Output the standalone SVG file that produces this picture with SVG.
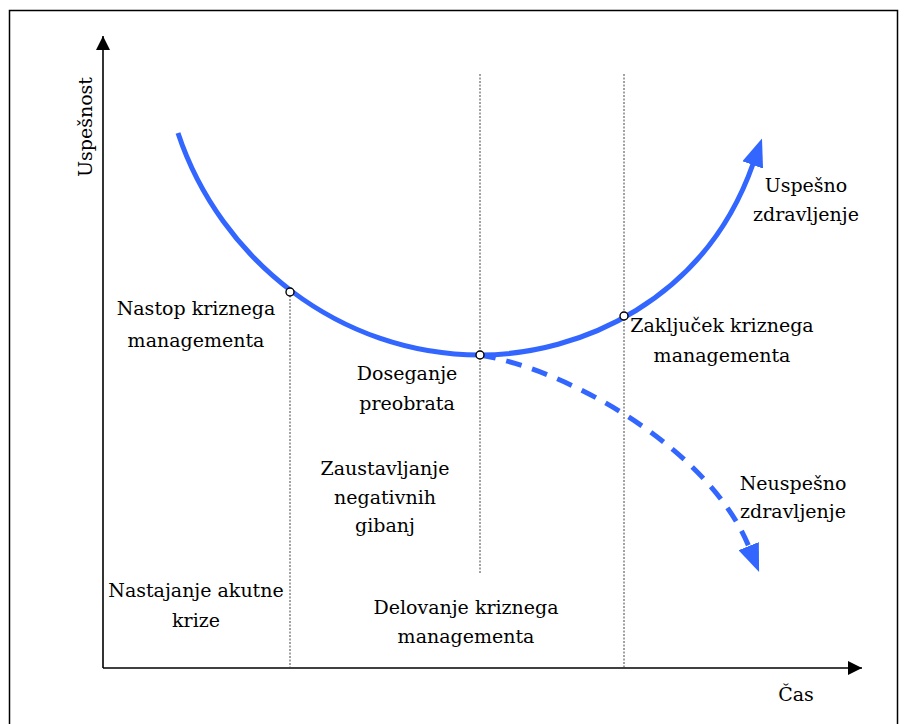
<svg xmlns="http://www.w3.org/2000/svg" width="906" height="724" viewBox="0 0 906 724">
  <style>
    .t { font-family: "DejaVu Serif", "Liberation Serif", serif; font-size: 19px; fill: #000; text-anchor: middle; }
    .axis { stroke: #000; stroke-width: 1.6; fill: none; }
    .guide { stroke: #444; stroke-width: 1; stroke-dasharray: 2 1.5; fill: none; }
    .curve { stroke: #3366ff; stroke-width: 5; fill: none; }
    .pt { fill: #fff; stroke: #000; stroke-width: 1.4; }
  </style>
  <defs>
    <marker id="ah" viewBox="0 0 10 10" refX="10" refY="5" markerWidth="14" markerHeight="14" markerUnits="userSpaceOnUse" orient="auto">
      <path d="M0,0 L10,5 L0,10 z" fill="#000"/>
    </marker>
    <marker id="bh" viewBox="0 0 28 22" refX="1" refY="11" markerWidth="28" markerHeight="22" markerUnits="userSpaceOnUse" orient="auto">
      <path d="M0,0 L28,11 L0,22 z" fill="#3366ff"/>
    </marker>
  </defs>
  <rect x="9.5" y="10.5" width="888" height="725" fill="#fff" stroke="#000" stroke-width="1.5"/>

  <g id="axes">
    <line class="axis" x1="103" y1="668" x2="103" y2="36" marker-end="url(#ah)"/>
    <line class="axis" x1="103" y1="668" x2="862" y2="668" marker-end="url(#ah)"/>
  </g>

  <g id="guides">
    <line class="guide" x1="290" y1="292" x2="290" y2="668"/>
    <line class="guide" x1="480" y1="74" x2="480" y2="574"/>
    <line class="guide" x1="624" y1="74" x2="624" y2="668"/>
  </g>

  <g id="connectors">
    <path id="success-curve" class="curve" d="M178,133 C220,260 340,355 480,355 C580,355 705,300 753,164" marker-end="url(#bh)"/>
    <path id="failure-curve" class="curve" stroke-dasharray="16 11" d="M480,355 C570,370 710,450 749,547" marker-end="url(#bh)"/>
  </g>

  <g id="points">
    <circle class="pt" cx="290" cy="292" r="4"/>
    <circle class="pt" cx="480" cy="355" r="4"/>
    <circle class="pt" cx="624" cy="316" r="4"/>
  </g>

  <g id="label-y"><text class="t" transform="translate(92,127) rotate(-90)">Uspešnost</text></g>
  <g id="label-x"><text class="t" x="796" y="701">Čas</text></g>
  <g id="label-success"><text class="t" x="806" y="192">Uspešno</text><text class="t" x="806" y="221">zdravljenje</text></g>
  <g id="label-nastop"><text class="t" x="196" y="315">Nastop kriznega</text><text class="t" x="196" y="347">managementa</text></g>
  <g id="label-zakljucek"><text class="t" x="722" y="332">Zaključek kriznega</text><text class="t" x="722" y="362">managementa</text></g>
  <g id="label-doseganje"><text class="t" x="407" y="380">Doseganje</text><text class="t" x="407" y="410">preobrata</text></g>
  <g id="label-zaustavljanje"><text class="t" x="385" y="475">Zaustavljanje</text><text class="t" x="385" y="504">negativnih</text><text class="t" x="385" y="532">gibanj</text></g>
  <g id="label-fail"><text class="t" x="793" y="490">Neuspešno</text><text class="t" x="793" y="518">zdravljenje</text></g>
  <g id="label-nastajanje"><text class="t" x="196" y="597">Nastajanje akutne</text><text class="t" x="196" y="627">krize</text></g>
  <g id="label-delovanje"><text class="t" x="466" y="614">Delovanje kriznega</text><text class="t" x="466" y="643">managementa</text></g>
</svg>
